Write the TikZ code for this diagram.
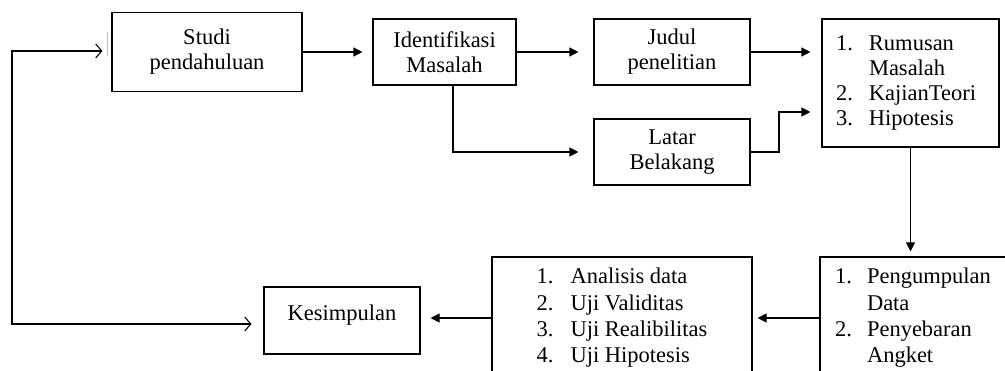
\documentclass[tikz,border=0pt]{standalone}
\usepackage{fontspec}
\setmainfont{Liberation Serif}
\usetikzlibrary{arrows.meta}
\begin{document}
\begin{tikzpicture}[x=1pt,y=-1pt,line width=1.1pt,
  box/.style={draw,rectangle,align=center,inner sep=0pt,font=\fontsize{22.5}{25}\selectfont},
  arr/.style={-{Triangle[length=9pt,width=9pt]}},
  barb/.style={{Straight Barb[length=6pt,width=14pt]}-{Straight Barb[length=6pt,width=14pt]}}]

\useasboundingbox (0,0) rectangle (1005,371);
\clip (0,0) rectangle (1005,371);

%top row
\node[box,minimum width=190pt,minimum height=79pt] (studi) at (207,52) {Studi\\pendahuluan};
\node[box,minimum width=143pt,minimum height=66pt] (ident) at (444.5,52) {Identifikasi\\Masalah};
\node[box,minimum width=156pt,minimum height=66pt] (judul) at (672,52) {Judul\\penelitian};
\node[box,minimum width=156pt,minimum height=66pt] (latar) at (672,152) {Latar\\Belakang};
\node[box,minimum width=177pt,minimum height=128pt] (rumus) at (910.5,83)
  {\begin{tabular}{@{}p{33pt}@{}p{116pt}@{}}1. & Rumusan\\ & Masalah\\ 2. & KajianTeori\\ 3. & Hipotesis\end{tabular}};

%bottom row
\node[box,minimum width=187pt,minimum height=122pt] (peng) at (913.5,318)
  {\def\arraystretch{1.05}\begin{tabular}{@{}p{32pt}@{}p{125pt}@{}}1. & Pengumpulan\\ & Data\\ 2. & Penyebaran\\ & Angket\end{tabular}};
\node[box,minimum width=260pt,minimum height=122pt] (anal) at (622,318)
  {\def\arraystretch{1.05}\begin{tabular}{@{}p{34pt}@{}l@{}}1. & Analisis data\\ 2. & Uji Validitas\\ 3. & Uji Realibilitas\\ 4. & Uji Hipotesis\end{tabular}};
\node[box,minimum width=156pt,minimum height=67pt] (kesim) at (342,320.5) {\raisebox{5pt}[\height][\depth]{Kesimpulan}};

\coordinate (lt) at (12,51);
\coordinate (lb) at (12,324);
\coordinate (bend) at (779,112);

\draw [arr,shorten >=10pt] (studi) -- (studi -| ident.west);
\draw [arr,shorten >=15pt] (ident.east) -- (ident.east -| judul.west);
\draw [arr,shorten >=15pt] ([xshift=8.5pt]ident.south) |- (latar.west);
\draw [arr,shorten >=11pt] (judul.east) -- (judul.east -| rumus.west);
\draw [arr,shorten >=11pt] (latar.east) -| (bend) -- (bend -| rumus.west);
\draw [arr,shorten >=5pt] (rumus.south) -- (rumus.south |- peng.north);
\draw [arr,shorten >=5pt] (peng.west) -- (anal.east);
\draw [arr,shorten >=10pt] (anal.west) -- (anal.west -| kesim.east);

%loop back
\draw [barb,shorten <=12pt,shorten >=9pt] (lb -| kesim.west) -- (lb) -- (lt) -- (lt -| studi.west);
\draw [gray!50,line width=1.2pt] ([xshift=-4pt]studi.west |- 0,32) -- ([xshift=-4pt]studi.west |- 0,56);

\end{tikzpicture}
\end{document}
